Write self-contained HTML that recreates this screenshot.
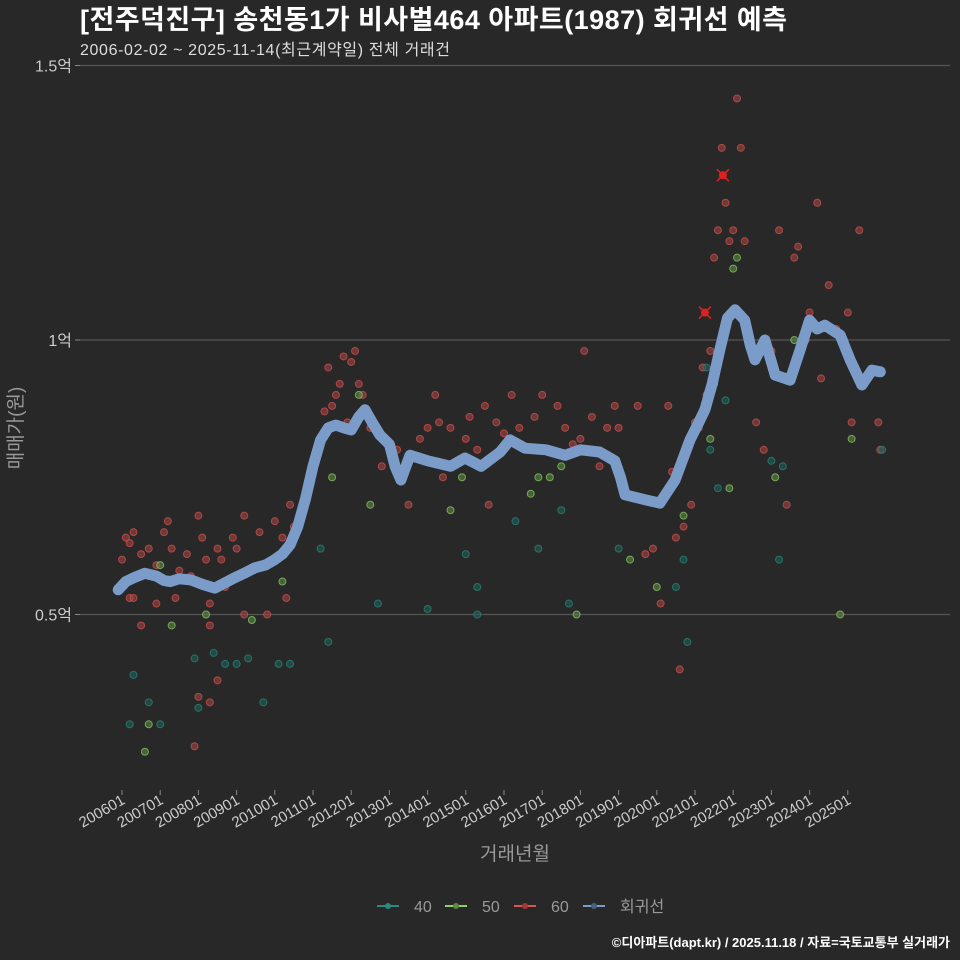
<!DOCTYPE html>
<html><head><meta charset="utf-8"><style>
body{margin:0;background:#282828;}
svg{display:block;font-family:"Liberation Sans","Noto Sans CJK KR",sans-serif;}
</style></head><body>
<svg id="c" width="960" height="960" viewBox="0 0 960 960">
<rect width="960" height="960" fill="#282828"/>
<text x="80" y="29" fill="#fff" font-size="27" font-weight="bold" textLength="707">[전주덕진구] 송천동1가 비사벌464 아파트(1987) 회귀선 예측</text>
<text x="80" y="55" fill="#ddd" font-size="16" textLength="370">2006-02-02 ~ 2025-11-14(최근계약일) 전체 거래건</text>
<g id="grid"></g>
<g id="pts"></g>
<g id="reg"></g>
<g id="xt"></g>
<text x="515" y="860" fill="#999" font-size="19" text-anchor="middle">거래년월</text>
<text transform="translate(22,428) rotate(-90)" fill="#999" font-size="19" text-anchor="middle">매매가(원)</text>
<g font-size="16" fill="#999">
<g><line x1="377" y1="906" x2="399" y2="906" stroke="#2a8a80" stroke-width="2"/><circle cx="388" cy="906" r="3" fill="#2a8a80"/><text x="414" y="912">40</text></g>
<g><line x1="445" y1="906" x2="467" y2="906" stroke="#8fd16a" stroke-width="2"/><circle cx="456" cy="906" r="3" fill="#5a8a40"/><text x="482" y="912">50</text></g>
<g><line x1="514" y1="906" x2="536" y2="906" stroke="#d9534f" stroke-width="2"/><circle cx="525" cy="906" r="3" fill="#a03a38"/><text x="551" y="912">60</text></g>
<g><line x1="583" y1="906" x2="605" y2="906" stroke="#7b9cc9" stroke-width="2"/><circle cx="594" cy="906" r="3" fill="#4a6080"/><text x="620" y="912">회귀선</text></g>
</g>
<text x="950" y="947" fill="#fff" font-size="13" font-weight="bold" text-anchor="end">©디아파트(dapt.kr) / 2025.11.18 / 자료=국토교통부 실거래가</text>
</svg>
<script>
const yTicks=[0.5,1,1.5];
const yTickLabels=["0.5억","1억","1.5억"];
const xYears=[2006,2007,2008,2009,2010,2011,2012,2013,2014,2015,2016,2017,2018,2019,2020,2021,2022,2023,2024,2025];
const regT=[2005.9,2006.1,2006.34,2006.6,2006.9,2007.1,2007.26,2007.5,2007.8,2008.1,2008.43,2008.7,2008.95,2009.2,2009.48,2009.75,2010.0,2010.2,2010.4,2010.6,2010.8,2011.0,2011.2,2011.4,2011.6,2011.8,2012.0,2012.2,2012.36,2012.55,2012.75,2013.0,2013.15,2013.3,2013.54,2014.0,2014.3,2014.6,2014.98,2015.4,2015.9,2016.16,2016.55,2017.1,2017.6,2018.0,2018.5,2018.9,2019.05,2019.17,2019.7,2020.08,2020.48,2020.87,2021.1,2021.26,2021.45,2021.65,2021.85,2022.05,2022.3,2022.45,2022.57,2022.83,2023.0,2023.1,2023.49,2023.75,2024.0,2024.2,2024.4,2024.8,2025.06,2025.37,2025.63,2025.85];
const regV=[0.545,0.56,0.568,0.575,0.57,0.562,0.56,0.565,0.563,0.555,0.548,0.558,0.567,0.575,0.585,0.59,0.6,0.61,0.627,0.66,0.71,0.77,0.818,0.84,0.845,0.84,0.836,0.86,0.873,0.85,0.827,0.81,0.77,0.745,0.79,0.78,0.775,0.77,0.785,0.77,0.796,0.818,0.803,0.8,0.79,0.8,0.796,0.78,0.75,0.718,0.709,0.703,0.745,0.818,0.85,0.873,0.92,0.982,1.04,1.055,1.036,0.99,0.964,1.0,0.96,0.936,0.927,0.982,1.036,1.02,1.027,1.009,0.964,0.918,0.945,0.942];
const t60=[2006.0,2006.1,2006.2,2006.3,2006.2,2006.3,2006.5,2006.5,2006.7,2006.9,2006.9,2007.1,2007.2,2007.3,2007.4,2007.5,2007.7,2007.8,2008.0,2008.1,2008.2,2008.3,2008.3,2008.5,2008.6,2008.7,2008.9,2007.9,2008.0,2008.3,2008.5,2009.0,2009.2,2009.4,2009.6,2009.8,2009.2,2010.0,2010.2,2010.4,2010.3,2010.5,2010.7,2010.9,2011.0,2011.1,2011.3,2011.4,2011.5,2011.6,2011.7,2011.8,2011.9,2012.0,2012.1,2012.2,2012.3,2012.5,2012.8,2013.2,2013.5,2013.8,2014.0,2014.2,2014.3,2014.4,2014.6,2014.8,2015.0,2015.1,2015.3,2015.5,2015.6,2015.8,2016.0,2016.2,2016.4,2016.6,2016.8,2017.0,2017.2,2017.4,2017.6,2017.8,2018.0,2018.1,2018.3,2018.5,2018.7,2018.9,2019.0,2019.5,2019.7,2019.9,2020.1,2020.2,2020.3,2020.4,2020.5,2020.6,2020.7,2020.8,2020.9,2021.0,2021.1,2021.2,2021.3,2021.4,2021.5,2021.6,2021.7,2021.8,2021.9,2022.0,2022.1,2022.2,2022.3,2022.4,2022.6,2022.8,2023.0,2023.2,2023.4,2023.6,2023.7,2023.9,2024.0,2024.2,2024.3,2024.5,2024.7,2024.9,2025.0,2025.1,2025.3,2025.8,2025.85];
const v60=[.60,.64,.63,.65,.53,.53,.48,.61,.62,.59,.52,.65,.67,.62,.53,.58,.61,.57,.68,.64,.60,.52,.48,.62,.60,.55,.64,.26,.35,.34,.38,.62,.68,.58,.65,.50,.50,.67,.64,.70,.53,.66,.68,.73,.76,.79,.87,.95,.88,.90,.92,.97,.85,.96,.98,.92,.90,.84,.77,.80,.70,.82,.84,.90,.85,.75,.84,.78,.82,.86,.80,.88,.70,.85,.83,.90,.84,.80,.86,.90,.80,.88,.84,.81,.82,.98,.86,.77,.84,.88,.84,.88,.61,.62,.52,.72,.88,.76,.64,.40,.66,.80,.70,.85,.84,.95,.90,.98,1.15,1.20,1.35,1.25,1.18,1.20,1.44,1.35,1.18,1.0,.85,.80,.98,1.20,.70,1.15,1.17,1.00,1.05,1.25,.93,1.10,1.02,1.0,1.05,.85,1.20,.85,.80];
const t40=[2006.3,2006.2,2006.7,2007.0,2007.9,2008.0,2008.4,2008.7,2009.0,2009.3,2009.7,2010.1,2010.4,2011.2,2011.4,2012.7,2014.0,2015.0,2015.3,2015.3,2016.3,2016.9,2017.5,2017.7,2019.0,2020.5,2020.7,2020.8,2021.3,2021.4,2021.6,2021.8,2023.0,2023.2,2023.3,2025.9];
const v40=[.39,.30,.34,.30,.42,.33,.43,.41,.41,.42,.34,.41,.41,.62,.45,.52,.51,.61,.55,.50,.67,.62,.69,.52,.62,.55,.60,.45,.95,.80,.73,.89,.78,.60,.77,.80];
const t50=[2006.6,2006.7,2007.0,2007.3,2008.2,2009.4,2010.2,2011.5,2012.2,2012.5,2014.6,2014.9,2016.7,2016.9,2017.2,2017.5,2017.9,2019.3,2020.0,2020.7,2021.4,2021.5,2021.9,2022.0,2022.1,2023.1,2023.6,2024.8,2025.1];
const v50=[.25,.30,.59,.48,.50,.49,.56,.75,.90,.70,.69,.75,.72,.75,.75,.77,.50,.60,.55,.68,.82,.92,.73,1.13,1.15,.75,1.00,.50,.82];
const outT=[2021.26,2021.73];
const outV=[1.05,1.30];
const NS='http://www.w3.org/2000/svg';
const X=t=>122+(t-2006)*38.2;
const Y=v=>340-(v-1)*549;
function mk(tag,attrs,parent){const e=document.createElementNS(NS,tag);for(const k in attrs)e.setAttribute(k,attrs[k]);parent.appendChild(e);return e;}
const grid=document.getElementById('grid');
yTicks.forEach((v,i)=>{
 const l=mk('line',{x1:80,x2:950,y1:Y(v),y2:Y(v),stroke:'#555','stroke-width':1.2},grid);
 
 
 const tk=mk('line',{x1:75,x2:80,y1:Y(v),y2:Y(v),stroke:'#888'},grid);
 
 
 const t=mk('text',{x:72,y:Y(v)+6,fill:'#ccc','font-size':16,'text-anchor':'end'},grid);
 t.textContent=yTickLabels[i];
 
 
});
const xt=document.getElementById('xt');
xYears.forEach(yr=>{
 const x=X(yr);
 const tk=mk('line',{x1:x,x2:x,y1:790,y2:795,stroke:'#888'},xt);
 
 
 const t=mk('text',{transform:`translate(${x+4},${803}) rotate(-30)`,fill:'#ccc','font-size':15,'text-anchor':'end'},xt);
 t.textContent=yr+'01';
 
 
});
const pts=document.getElementById('pts');
function drawPts(ts,vs,fill,stroke,name){
 ts.forEach((t,i)=>{
  const c=mk('circle',{cx:X(t),cy:Y(vs[i]),r:3.5,fill:fill,stroke:stroke,'stroke-width':1,'fill-opacity':0.6,'stroke-opacity':0.7},pts);
  
  
 });
}
drawPts(t60,v60,'#a04442','#d9534f','point-60');
drawPts(t40,v40,'#1f5f58','#2a8a80','point-40');
drawPts(t50,v50,'#5a8a40','#8fd16a','point-50');
outT.forEach((t,i)=>{
 const x=X(t),y=Y(outV[i]);
 const g=mk('g',{},pts);
 
 
 mk('circle',{cx:x,cy:y,r:4,fill:'#e02020'},g);
 mk('path',{d:`M${x-6},${y-6}L${x+6},${y+6}M${x-6},${y+6}L${x+6},${y-6}`,stroke:'#e02020','stroke-width':1.5},g);
});
const reg=document.getElementById('reg');
const d=regT.map((t,i)=>(i?'L':'M')+X(t).toFixed(1)+','+Y(regV[i]).toFixed(1)).join('');
const p=mk('path',{d:d,fill:'none',stroke:'#7b9cc9','stroke-width':11,'stroke-linejoin':'round','stroke-linecap':'round'},reg);


</script>
</body></html>
